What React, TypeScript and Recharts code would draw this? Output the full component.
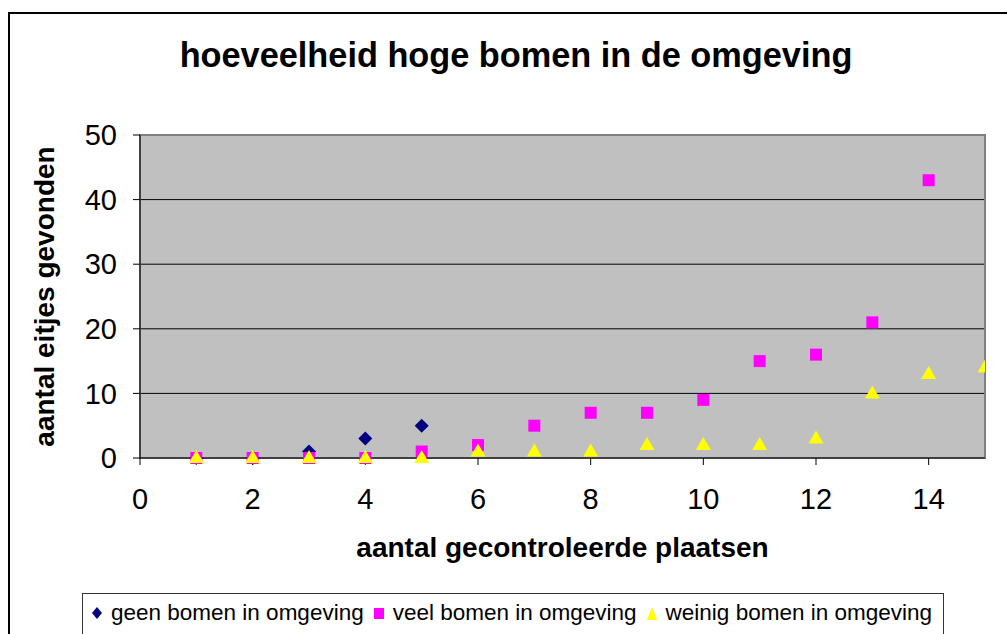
import React from 'react';
import {
  ScatterChart,
  Scatter,
  XAxis,
  YAxis,
  CartesianGrid,
  ReferenceArea,
} from 'recharts';

// data
const geenX = [1, 2, 3, 4, 5];
const geenY = [0, 0, 1, 3, 5];
const veelX = [1, 2, 3, 4, 5, 6, 7, 8, 9, 10, 11, 12, 13, 14];
const veelY = [0, 0, 0, 0, 1, 2, 5, 7, 7, 9, 15, 16, 21, 43];
const weinigX = [1, 2, 3, 4, 5, 6, 7, 8, 9, 10, 11, 12, 13, 14, 15];
const weinigY = [0, 0, 0, 0, 0, 1, 1, 1, 2, 2, 2, 3, 10, 13, 14];
const xTicks = [0, 2, 4, 6, 8, 10, 12, 14];
const yTicks = [0, 10, 20, 30, 40, 50];

const toPoints = (xs: number[], ys: number[]) => xs.map((x, i) => ({ x, y: ys[i] }));

const geen = toPoints(geenX, geenY);
const veel = toPoints(veelX, veelY);
const weinig = toPoints(weinigX, weinigY);

const FONT = 'Arial, "Liberation Sans", sans-serif';

const Diamond = (p: any) => {
  const { cx, cy } = p;
  const r = 7;
  return <path d={`M${cx},${cy - r}L${cx + r},${cy}L${cx},${cy + r}L${cx - r},${cy}Z`} fill="#000080" />;
};
const Square = (p: any) => {
  const { cx, cy } = p;
  return <rect x={cx - 6} y={cy - 6} width={12} height={12} fill="#FF00FF" />;
};
const Triangle = (p: any) => {
  const { cx, cy } = p;
  return <path d={`M${cx},${cy - 8}L${cx + 7.5},${cy + 5}L${cx - 7.5},${cy + 5}Z`} fill="#FFFF00" />;
};

const legendItems = [
  { name: 'geen bomen in omgeving', icon: (
    <svg width={12} height={16}><path d="M6,2L11,8L6,14L1,8Z" fill="#000080" /></svg>
  ) },
  { name: 'veel bomen in omgeving', icon: (
    <svg width={12} height={16}><rect x={1} y={3} width={10} height={11} fill="#FF00FF" /></svg>
  ) },
  { name: 'weinig bomen in omgeving', icon: (
    <svg width={12} height={16}><path d="M6,2L11,15L1,15Z" fill="#FFFF00" /></svg>
  ) },
];

const LegendBox = () => (
  <div
    style={{
      position: 'absolute',
      left: 82,
      top: 593,
      width: 862,
      height: 50,
      border: '1px solid #333',
      background: '#fff',
      display: 'flex',
      alignItems: 'flex-start',
      paddingLeft: 8,
      paddingTop: 6,
      fontFamily: FONT,
      fontSize: 22.5,
      color: '#000',
      boxSizing: 'border-box',
      whiteSpace: 'nowrap',
    }}
  >
    {legendItems.map((it) => (
      <span key={it.name} style={{ display: 'flex', alignItems: 'center', marginRight: 9 }}>
        <span style={{ marginRight: 8, display: 'flex' }}>{it.icon}</span>
        {it.name}
      </span>
    ))}
  </div>
);

export default function App() {
  return (
    <div style={{ position: 'absolute', left: 0, top: 0, width: 1007, height: 634, overflow: 'hidden', background: '#fff' }}>
      <div
        style={{
          position: 'absolute',
          left: 8,
          top: 12,
          width: 1100,
          height: 700,
          border: '2px solid #000',
        }}
      />
      <div
        style={{
          position: 'absolute',
          left: 0,
          top: 36,
          width: 1032,
          textAlign: 'center',
          fontFamily: FONT,
          fontWeight: 'bold',
          fontSize: 34.3,
        }}
      >
        hoeveelheid hoge bomen in de omgeving
      </div>
      <div style={{ position: 'absolute', left: 0, top: 0 }}>
        <ScatterChart width={1007} height={634} margin={{ top: 135, right: 22, bottom: 0, left: 0 }}>
          <CartesianGrid
            vertical={false}
            horizontalValues={[10, 20, 30, 40]}
            stroke="#000"
            strokeOpacity={1}
            fill="#C0C0C0"
            fillOpacity={1}
          />
          <ReferenceArea x1={0} x2={15} y1={0} y2={50} fill="none" stroke="#808080" strokeWidth={2} />
          <XAxis
            type="number"
            dataKey="x"
            domain={[0, 15]}
            ticks={xTicks}
            allowDataOverflow
            height={176}
            stroke="#000"
            tickSize={7}
            tick={{ fill: '#000', fontSize: 29, fontFamily: FONT, dy: 21 }}
            label={{
              value: 'aantal gecontroleerde plaatsen',
              position: 'insideTop',
              offset: 79,
              style: { fill: '#000', fontSize: 28, fontWeight: 'bold', fontFamily: FONT },
            }}
          />
          <YAxis
            type="number"
            dataKey="y"
            domain={[0, 50]}
            ticks={yTicks}
            width={140}
            stroke="#000"
            tickSize={7}
            tick={{ fill: '#000', fontSize: 29, fontFamily: FONT, dx: -14 }}
            label={{
              value: 'aantal eitjes gevonden',
              angle: -90,
              position: 'insideLeft',
              offset: 44,
              style: { fill: '#000', fontSize: 28, fontWeight: 'bold', fontFamily: FONT, textAnchor: 'middle' },
            }}
          />
          <Scatter name="geen bomen in omgeving" data={geen} shape={Diamond} isAnimationActive={false} />
          <Scatter name="veel bomen in omgeving" data={veel} shape={Square} isAnimationActive={false} />
          <Scatter name="weinig bomen in omgeving" data={weinig} shape={Triangle} isAnimationActive={false} />
        </ScatterChart>
      </div>
      <LegendBox />
    </div>
  );
}
